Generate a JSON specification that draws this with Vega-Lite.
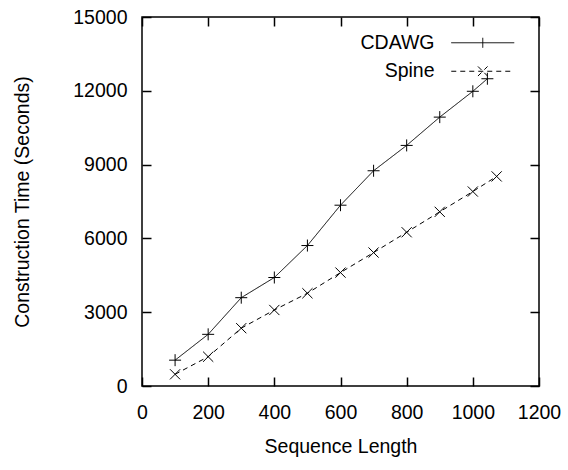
{
  "$schema": "https://vega.github.io/schema/vega-lite/v6.json",
  "width": 397,
  "height": 369,
  "autosize": {"type": "none"},
  "padding": {"left": 142, "top": 17, "right": 29, "bottom": 84},
  "background": "white",
  "config": {
    "view": {"stroke": "black", "strokeWidth": 1.5},
    "font": "Liberation Sans",
    "axis": {
      "grid": false,
      "domain": false,
      "tickColor": "black",
      "tickWidth": 1.5,
      "tickSize": -9,
      "labelFontSize": 19.5,
      "labelColor": "black",
      "labelFont": "Liberation Sans",
      "labelOverlap": false,
      "labelFlush": false,
      "format": "d",
      "titleFontSize": 19.5,
      "titleFontWeight": "normal",
      "titleColor": "black",
      "titleFont": "Liberation Sans"
    }
  },
  "data": {
    "values": [
      {"series": "CDAWG", "length": 100, "time": 1050},
      {"series": "CDAWG", "length": 200, "time": 2100},
      {"series": "CDAWG", "length": 300, "time": 3590},
      {"series": "CDAWG", "length": 400, "time": 4410},
      {"series": "CDAWG", "length": 500, "time": 5710},
      {"series": "CDAWG", "length": 600, "time": 7350},
      {"series": "CDAWG", "length": 700, "time": 8750},
      {"series": "CDAWG", "length": 800, "time": 9780},
      {"series": "CDAWG", "length": 900, "time": 10930},
      {"series": "CDAWG", "length": 1000, "time": 11980},
      {"series": "CDAWG", "length": 1044, "time": 12490},
      {"series": "Spine", "length": 100, "time": 475},
      {"series": "Spine", "length": 200, "time": 1190},
      {"series": "Spine", "length": 300, "time": 2350},
      {"series": "Spine", "length": 400, "time": 3090},
      {"series": "Spine", "length": 500, "time": 3770},
      {"series": "Spine", "length": 600, "time": 4610},
      {"series": "Spine", "length": 700, "time": 5425},
      {"series": "Spine", "length": 800, "time": 6250},
      {"series": "Spine", "length": 900, "time": 7080},
      {"series": "Spine", "length": 1000, "time": 7905},
      {"series": "Spine", "length": 1072, "time": 8520}
    ]
  },
  "layer": [
    {
      "mark": {"type": "line", "color": "black", "strokeWidth": 1},
      "encoding": {
        "x": {
          "field": "length",
          "type": "quantitative",
          "scale": {"domain": [0, 1200], "nice": false, "zero": true},
          "axis": {
            "orient": "bottom",
            "values": [0, 200, 400, 600, 800, 1000, 1200],
            "title": "Sequence Length",
            "labelPadding": 26,
            "titlePadding": 16
          }
        },
        "y": {
          "field": "time",
          "type": "quantitative",
          "scale": {"domain": [0, 15000], "nice": false, "zero": true},
          "axis": {
            "orient": "left",
            "values": [0, 3000, 6000, 9000, 12000, 15000],
            "title": "Construction Time (Seconds)",
            "labelPadding": 24,
            "titlePadding": 40
          }
        },
        "strokeDash": {
          "field": "series",
          "type": "nominal",
          "scale": {"domain": ["CDAWG", "Spine"], "range": [[1, 0], [5, 4]]},
          "legend": {
            "title": null,
            "orient": "none",
            "legendX": 331,
            "legendY": 16,
            "symbolSize": 144,
            "rowPadding": 7.5,
            "labelAlign": "right",
            "labelOffset": -58,
            "labelFontSize": 19.5,
            "labelColor": "black",
            "labelFont": "Liberation Sans",
            "symbolStrokeColor": "black",
            "symbolStrokeWidth": 1,
            "symbolType": {"expr": "datum.value === 'CDAWG' ? 'M-5.25,0H5.25M0,-0.83V0.83' : 'M-5.25,0H5.25M-0.8,-0.8L0.8,0.8M-0.8,0.8L0.8,-0.8'"}
          }
        }
      }
    },
    {
      "transform": [{"filter": "datum.series === 'CDAWG'"}],
      "mark": {"type": "point", "filled": false, "color": "black", "strokeWidth": 1, "opacity": 1, "shape": "M-1,0H1M0,-1V1", "size": 144},
      "encoding": {
        "x": {
          "field": "length",
          "type": "quantitative",
          "axis": {
            "orient": "top",
            "values": [0, 200, 400, 600, 800, 1000, 1200],
            "labels": false,
            "title": null
          }
        },
        "y": {
          "field": "time",
          "type": "quantitative",
          "axis": {
            "orient": "right",
            "values": [0, 3000, 6000, 9000, 12000, 15000],
            "labels": false,
            "title": null
          }
        }
      }
    },
    {
      "transform": [{"filter": "datum.series === 'Spine'"}],
      "mark": {"type": "point", "filled": false, "color": "black", "strokeWidth": 1, "opacity": 1, "shape": "M-0.85,-0.85L0.85,0.85M-0.85,0.85L0.85,-0.85", "size": 144},
      "encoding": {
        "x": {"field": "length", "type": "quantitative", "axis": null},
        "y": {"field": "time", "type": "quantitative", "axis": null}
      }
    }
  ],
  "resolve": {"axis": {"x": "independent", "y": "independent"}}
}
